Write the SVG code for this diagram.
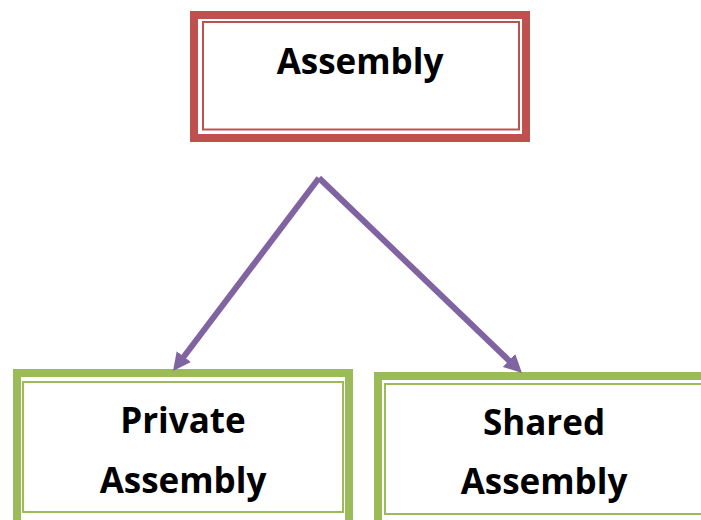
<svg xmlns="http://www.w3.org/2000/svg" width="701" height="520" viewBox="0 0 701 520">
<defs>
<style>
.red-outer{fill:#fff;stroke:#C0504D;stroke-width:8}
.red-inner{fill:none;stroke:#C0504D;stroke-width:2}
.green-outer{fill:#fff;stroke:#9BBB59;stroke-width:8}
.green-inner{fill:none;stroke:#9BBB59;stroke-width:2}
.label{font-family:"Open Sans","Liberation Sans",sans-serif;font-weight:bold;font-size:35px;fill:#000;text-anchor:middle}
.conn{stroke:#8064A2;stroke-width:6;fill:none;marker-end:url(#arrow)}
</style>
<marker id="arrow" viewBox="0 0 10 10" refX="2" refY="5" markerWidth="18" markerHeight="18" markerUnits="userSpaceOnUse" orient="auto">
<path d="M0,0 L10,5 L0,10 z" fill="#8064A2"/>
</marker>
</defs>
<rect width="701" height="520" fill="#fff"/>
<g id="assembly">
<rect class="red-outer" x="194" y="15" width="332" height="123"/>
<rect class="red-inner" x="203" y="22" width="316" height="107.5"/>
<text class="label" x="360" y="74">Assembly</text>
</g>
<g id="private-assembly">
<rect class="green-outer" x="17" y="373" width="332" height="152"/>
<rect class="green-inner" x="23" y="382" width="320" height="130"/>
<text class="label" x="183" y="433">Private</text>
<text class="label" x="183" y="493">Assembly</text>
</g>
<g id="shared-assembly">
<rect class="green-outer" x="378" y="376" width="332" height="152"/>
<rect class="green-inner" x="385" y="384" width="320" height="130"/>
<text class="label" x="544" y="435">Shared</text>
<text class="label" x="544" y="494">Assembly</text>
</g>
<g id="connectors">
<line class="conn" x1="319" y1="178" x2="181.7" y2="359.5"/>
<line class="conn" x1="319" y1="178" x2="511.6" y2="363"/>
</g>
</svg>
